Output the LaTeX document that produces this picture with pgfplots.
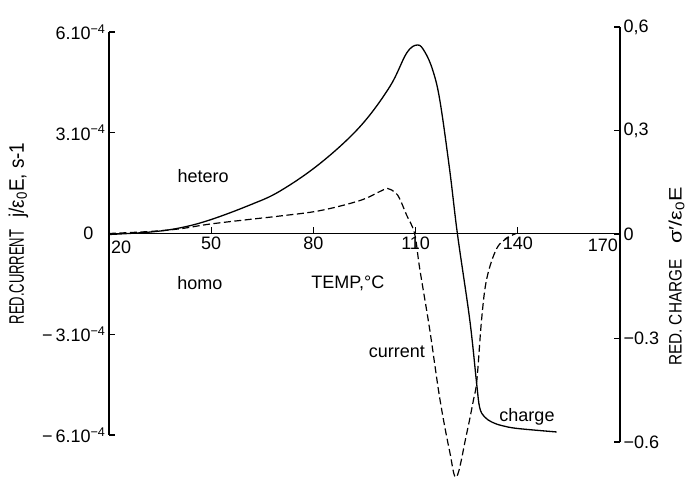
\documentclass[border=0pt]{standalone}
\usepackage{pgfplots}
\pgfplotsset{compat=1.18}
\usepackage{pgfplotstable}
\usepackage{graphicx}
\usepackage{fontspec}
\setmainfont{Liberation Sans}
\newcommand\lbl{\fontsize{18}{21}\selectfont}

% reduced current, units of 1e-4 s^-1 (left axis)
\pgfplotstableread{
T y
20 0
32 0.06
40.8 0.14
49.6 0.28
61.3 0.42
70.1 0.52
81.9 0.68
93.6 0.98
99.5 1.25
101.8 1.34
104 1.22
105.3 1.04
107.4 0.54
109.7 0
111.2 -1.04
114.1 -2.83
117.1 -4.91
120.0 -6.49
122.0 -7.25
124.9 -6.0
126.9 -5.0
128.0 -4.35
129.4 -2.53
130.9 -1.34
133.8 -0.45
137.0 -0.13
139.5 0
}\currentdata

% reduced charge (right axis)
\pgfplotstableread{
T q
20 0
32 0.007
40.8 0.019
49.6 0.042
61.3 0.085
70.1 0.125
81.9 0.205
93.6 0.311
102.4 0.427
107.4 0.525
110.6 0.548
112.7 0.528
115.0 0.476
117.1 0.389
120.0 0.187
122.3 0
125.9 -0.247
127.9 -0.429
128.8 -0.500
130.2 -0.527
132.5 -0.543
135.5 -0.553
140.0 -0.561
151.4 -0.571
}\chargedata

\begin{document}
\begin{tikzpicture}[font=\lbl]
\begin{axis}[
    at={(0pt,0pt)}, anchor=south west,
    scale only axis, width=511pt, height=403pt,
    xmin=20, xmax=170, ymin=-6, ymax=6,
    axis x line=middle, axis y line=left,
    axis line style={-, line width=1.5pt},
    x axis line style={-}, y axis line style={-},
    xtick={50,80,110,140},
    xticklabels={50,80,110,140},
    ytick={-6,-3,0,3,6},
    yticklabels={−\,6.10\textsuperscript{−4}, −\,3.10\textsuperscript{−4}, 0\hspace*{12pt}\mbox{}, 3.10\textsuperscript{−4}, 6.10\textsuperscript{−4}},
    tick align=inside,
    major tick length=6pt,
    tick style={line width=1.2pt, black},
    hide obscured x ticks=false, hide obscured y ticks=false,
    tick label style={font=\lbl},
    clip=false,
]
\addplot[black, line width=1.2pt, dash pattern=on 7pt off 3.5pt, smooth, tension=0.6] table {\currentdata};

\node[anchor=north west, inner sep=2pt] at (axis cs:20,-0.15) {20};
\node[anchor=north east, inner sep=2pt] at (axis cs:170,-0.1) {170};

\node at (axis cs:47.6,1.7) {hetero};
\node at (axis cs:46.7,-1.49) {homo};
\node at (axis cs:90.1,-1.49) {TEMP,°C};
\node at (axis cs:104.5,-3.51) {current};
\node at (axis cs:142.7,-5.45) {charge};

\node[rotate=90] at (axis cs:-6.6,0) {\fontsize{21}{23}\selectfont\scalebox{0.62}[1]{RED.CURRENT}\hspace{12pt}\scalebox{0.9}[1]{j/ε\textsubscript{0}E, s-1}};
\node[rotate=90] at (axis cs:186.6,-1.28) {\fontsize{18}{20}\selectfont\scalebox{0.85}[1]{RED. CHARGE}\hspace{16pt}\scalebox{1.2}[1]{σ′/ε\textsubscript{0}E}};
\end{axis}

\begin{axis}[
    at={(0pt,-7pt)}, anchor=south west,
    scale only axis, width=511pt, height=415pt,
    xmin=20, xmax=170, ymin=-0.6, ymax=0.6,
    axis x line=none, axis y line=right,
    axis line style={-, line width=1.5pt},
    y axis line style={-},
    ytick={-0.6,-0.3,0,0.3,0.6},
    yticklabels={−0.6,−0.3,0,{0,3},{0,6}},
    tick align=inside,
    major tick length=6pt,
    tick style={line width=1.2pt, black},
    tick label style={font=\lbl},
    clip=false,
]
\addplot[black, line width=1.3pt, smooth, tension=0.6] table {\chargedata};
\end{axis}

\pgfresetboundingbox
\path (-109pt,-43pt) rectangle (579pt,435pt);
\end{tikzpicture}
\end{document}
